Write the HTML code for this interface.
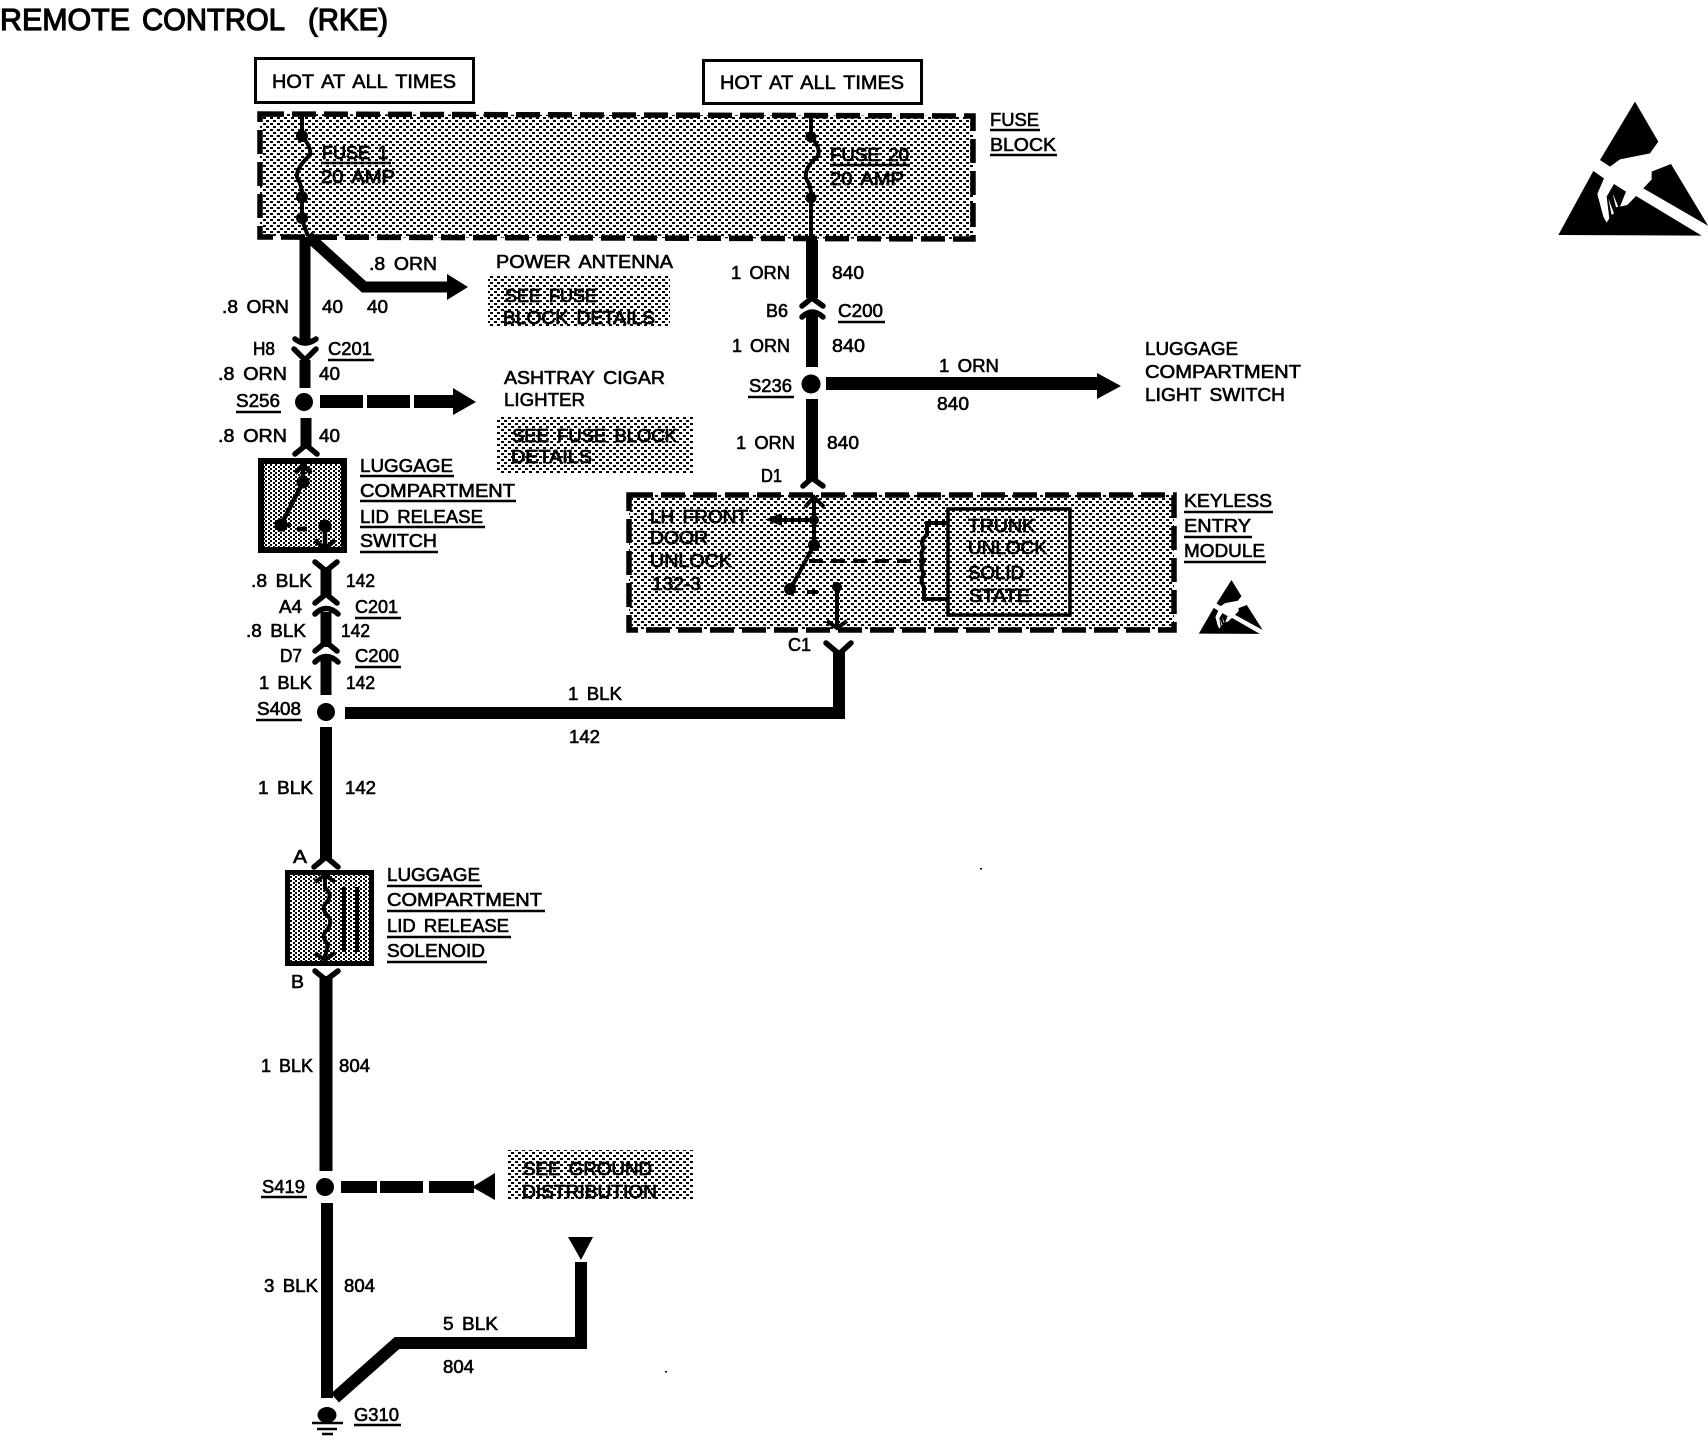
<!DOCTYPE html>
<html><head><meta charset="utf-8"><title>Remote Control (RKE)</title>
<style>
html,body{margin:0;padding:0;background:#fff;width:1708px;height:1440px;overflow:hidden}
svg{display:block}
text{font-family:"Liberation Sans",sans-serif;font-size:18px;fill:#000;stroke:#000;stroke-width:.6px;word-spacing:3px}
.s{stroke-width:.85px}
.t{font-size:31px;stroke-width:1.2px}
.h{font-size:19px}
</style></head><body>
<svg xmlns="http://www.w3.org/2000/svg" width="1708" height="1440" viewBox="0 0 1708 1440">
<defs>
<pattern id="d" width="7" height="6" patternUnits="userSpaceOnUse"><rect width="7" height="6" fill="#fff"/><rect x="0" y="0" width="3" height="2" fill="#000"/><rect x="4" y="3" width="3" height="2" fill="#000"/></pattern>
<pattern id="e" width="5" height="4" patternUnits="userSpaceOnUse"><rect width="5" height="4" fill="#fff"/><rect x="0" y="0" width="2" height="2" fill="#000"/><rect x="3" y="2" width="2" height="2" fill="#000"/></pattern>
<g id="esd"><path d="M285,35 L355,155 L330,190 L240,208 L210,230 L180,210 Z"/><path d="M393,222 L505,408 L310,295 L335,268 L335,245 Z"/><path d="M55,435 L160,243 L192,265 L172,312 L190,380 L200,398 L208,385 L200,320 L222,282 L258,305 L240,350 L262,345 L288,318 L485,437 Z"/><path d="M218,310 L235,350 L228,352 Z M205,325 L222,370 L215,375 Z" fill="#fff"/></g>
</defs>
<rect width="1708" height="1440" fill="#fff"/>

<!-- shaded areas -->
<path d="M260,114 L973,116 L973,239 L260,237 Z" fill="url(#d)"/>
<path d="M629,495 H1174 V630 H629 Z" fill="url(#d)"/>
<rect x="488" y="275" width="182" height="52" fill="url(#d)"/>
<rect x="497" y="416" width="196" height="57" fill="url(#d)"/>
<rect x="508" y="1150" width="185" height="50" fill="url(#d)"/>
<rect x="261" y="461" width="83" height="89" fill="url(#e)"/>
<rect x="287" y="872" width="85" height="92" fill="url(#e)"/>

<!-- dashed modules -->
<path d="M260,114 L973,116 L973,239 L260,237 Z" fill="none" stroke="#000" stroke-width="5.500" stroke-dasharray="24 8"/>
<path d="M629,495 H1174 V630 H629 Z" fill="none" stroke="#000" stroke-width="5.500" stroke-dasharray="24 8"/>

<!-- boxes -->
<rect x="255.500" y="58.500" width="218" height="44" fill="#fff" stroke="#000" stroke-width="3"/>
<rect x="703.500" y="60.500" width="218" height="43" fill="#fff" stroke="#000" stroke-width="3"/>
<rect x="261" y="461" width="83" height="89" fill="none" stroke="#000" stroke-width="6"/>
<rect x="287.500" y="872.500" width="84" height="91" fill="none" stroke="#000" stroke-width="5"/>
<rect x="948" y="509" width="122" height="106" fill="none" stroke="#000" stroke-width="3.500"/>

<!-- heavy wires -->
<g fill="none" stroke="#000" stroke-linejoin="miter">
<path d="M305,237 V345" stroke-width="11"/>
<path d="M308,236 L364,287 H450" stroke-width="11"/>
<path d="M305,360 V388" stroke-width="11"/>
<path d="M306,418 V448" stroke-width="11"/>
<path d="M326,567 V597" stroke-width="11"/>
<path d="M326,612 V647" stroke-width="11"/>
<path d="M326,656 V695" stroke-width="11"/>
<path d="M326,727 V860" stroke-width="12"/>
<path d="M326,976 V1171" stroke-width="13"/>
<path d="M327,1203 V1398" stroke-width="12"/>
<path d="M345,713 H839 V650" stroke-width="12"/>
<path d="M812,240 V298" stroke-width="12"/>
<path d="M812,312 V367" stroke-width="12"/>
<path d="M812,399 V480" stroke-width="12"/>
<path d="M826,383.500 H1098" stroke-width="13"/>
<path d="M335,1398 L397,1343 H581 V1262" stroke-width="12"/>
<path d="M320,401.500 H453" stroke-width="13" stroke-dasharray="43 4"/>
<path d="M341,1187 H377 M380,1187 H423 M429,1187 H474" stroke-width="12"/>
</g>

<!-- connector chevrons -->
<g fill="none" stroke="#000" stroke-width="5.500" stroke-linecap="round">
<path d="M295,339 Q305,347 316,339"/>
<path d="M294,349 L305,360 L316,349"/>
<path d="M295,454 L306,445 L317,454"/>
<path d="M315,562 L326,571 L337,562"/>
<path d="M315,603 L326,594 L337,603"/>
<path d="M315,614 Q326,603 338,614"/>
<path d="M315,651 L326,642 L337,651"/>
<path d="M315,662 Q326,651 338,662"/>
<path d="M314,867 L326,857 L338,867"/>
<path d="M315,971 L326,980 L338,971"/>
<path d="M826,643 L839,654 L851,643"/>
<path d="M802,306 L812,298 L823,306"/>
<path d="M802,317 Q812,307 823,317"/>
<path d="M803,486 L812,478 L823,486"/>
</g>

<!-- arrowheads -->
<path d="M447,274 L468,287 L447,300 Z"/>
<path d="M453,388 L476,402 L453,415 Z"/>
<path d="M1097,373 L1121,386 L1097,399 Z"/>
<path d="M472,1187 L495,1173 V1200 Z"/>
<path d="M568,1237 H593 L581,1260 Z"/>

<!-- splice dots -->
<circle cx="304" cy="402" r="9"/>
<circle cx="326" cy="712" r="9"/>
<circle cx="811" cy="384" r="9.500"/>
<circle cx="325" cy="1187" r="9"/>

<!-- fuses -->
<g fill="none" stroke="#000" stroke-width="4">
<path d="M302,114 V136 Q312,148 310,155 Q296,168 297,177 Q303,188 302,197 V220 L308,236"/>
<path d="M811,115 V137 Q821,148 818,156 Q804,168 806,178 Q812,188 811,198 V240"/>
</g>
<circle cx="302" cy="136" r="6"/><circle cx="302" cy="197" r="6"/><circle cx="302" cy="218" r="6"/>
<circle cx="811" cy="137" r="5.500"/><circle cx="811" cy="198" r="5.500"/>

<!-- switch -->
<g fill="none" stroke="#000" stroke-width="4.500">
<path d="M303,463 V482 L281,525 H291"/>
<path d="M297,529 H307"/>
<path d="M295,473 L303,465 L311,473"/>
<path d="M325,528 V548"/>
<path d="M315,540 L325,549 L335,540"/>
</g>
<circle cx="303" cy="482" r="6.500"/><circle cx="281" cy="525" r="6.500"/><circle cx="325" cy="526" r="6.500"/>

<!-- keyless internals -->
<g fill="none" stroke="#000" stroke-width="4">
<path d="M814,497 V545 L790,590"/>
<path d="M805,507 L814,497 L824,507"/>
<path d="M782,520 H814"/>
<path d="M807,592 H818"/>
<path d="M837,587 V627"/>
<path d="M827,621 L837,628 L847,621"/>
<path d="M809,561 H923" stroke-dasharray="14 8"/>
<path d="M948,523 H927 V535 Q919,541 924,548 Q919,554 924,561 Q919,567 924,574 Q919,580 924,587 V599 H948"/>
</g>
<path d="M765,519.500 L782,513 V526 Z"/>
<circle cx="814" cy="520" r="5"/><circle cx="814" cy="545" r="6"/><circle cx="790" cy="589" r="6"/><circle cx="837" cy="587" r="5"/>

<!-- solenoid -->
<g fill="none" stroke="#000" stroke-width="4">
<path d="M325,876 V888 Q333,894 327,902 Q320,908 328,916 Q333,922 327,930 Q320,936 328,944 L325,958"/>
<path d="M315,882 L325,875 L335,882"/>
<path d="M315,953 L325,960 L335,953"/>
<path d="M344,887 V952"/>
<path d="M357,887 V952"/>
</g>

<!-- ground -->
<ellipse cx="327" cy="1415" rx="9.500" ry="8"/>
<path d="M312,1423 H343 M317,1429 H337 M322,1434 H333" stroke="#000" stroke-width="2.500" fill="none"/>

<!-- ESD symbols -->
<use href="#esd" transform="translate(1540,90) scale(.3333)"/>
<use href="#esd" transform="translate(1191,575.300) scale(.142,.134)"/>

<!-- specks -->
<rect x="980" y="868" width="2" height="1.500"/><rect x="665" y="1371" width="2" height="1.500"/>

<!-- underlines -->
<g stroke="#000" stroke-width="2.500" fill="none">
<path d="M321,163 H391 M830,165 H910 M990,130 H1040 M990,155 H1057"/>
<path d="M328,360 H374 M236,412 H281 M838,322 H885 M748,397 H794"/>
<path d="M360,476 H454 M360,501 H516 M360,527 H485 M360,552 H438"/>
<path d="M355,618 H401 M355,667 H401 M256,720 H302"/>
<path d="M1184,512 H1273 M1184,537 H1252 M1184,562 H1266"/>
<path d="M387,886 H482 M387,911 H545 M387,937 H511 M387,962 H487"/>
<path d="M261,1197 H307 M354,1425 H401"/>
</g>

<!-- text -->
<text class="t" x="0" y="30" textLength="130" lengthAdjust="spacingAndGlyphs">REMOTE</text>
<text class="t" x="142" y="30" textLength="143" lengthAdjust="spacingAndGlyphs">CONTROL</text>
<text class="t" x="308" y="30" textLength="80" lengthAdjust="spacingAndGlyphs">(RKE)</text>

<text class="h" x="272" y="88" textLength="184" lengthAdjust="spacingAndGlyphs">HOT AT ALL TIMES</text>
<text class="h" x="720" y="89" textLength="184" lengthAdjust="spacingAndGlyphs">HOT AT ALL TIMES</text>

<text class="s" x="322" y="159" textLength="66" lengthAdjust="spacingAndGlyphs">FUSE 1</text>
<text class="s" x="321" y="183" textLength="74" lengthAdjust="spacingAndGlyphs">20 AMP</text>
<text class="s" x="830" y="161" textLength="79" lengthAdjust="spacingAndGlyphs">FUSE 20</text>
<text class="s" x="830" y="185" textLength="74" lengthAdjust="spacingAndGlyphs">20 AMP</text>
<text x="990" y="126" textLength="49" lengthAdjust="spacingAndGlyphs">FUSE</text>
<text x="990" y="151" textLength="66" lengthAdjust="spacingAndGlyphs">BLOCK</text>

<text x="222" y="313" textLength="67" lengthAdjust="spacingAndGlyphs">.8 ORN</text>
<text x="322" y="313" textLength="21" lengthAdjust="spacingAndGlyphs">40</text>
<text x="367" y="313" textLength="21" lengthAdjust="spacingAndGlyphs">40</text>
<text x="369" y="270" textLength="68" lengthAdjust="spacingAndGlyphs">.8 ORN</text>
<text x="496" y="268" textLength="177" lengthAdjust="spacingAndGlyphs">POWER ANTENNA</text>
<text class="s" x="505" y="302" textLength="92" lengthAdjust="spacingAndGlyphs">SEE FUSE</text>
<text class="s" x="503" y="324" textLength="152" lengthAdjust="spacingAndGlyphs">BLOCK DETAILS</text>
<text x="253" y="355" textLength="22" lengthAdjust="spacingAndGlyphs">H8</text>
<text x="328" y="355" textLength="44" lengthAdjust="spacingAndGlyphs">C201</text>
<text x="218" y="380" textLength="69" lengthAdjust="spacingAndGlyphs">.8 ORN</text>
<text x="319" y="380" textLength="21" lengthAdjust="spacingAndGlyphs">40</text>
<text x="236" y="407" textLength="44" lengthAdjust="spacingAndGlyphs">S256</text>
<text x="504" y="384" textLength="161" lengthAdjust="spacingAndGlyphs">ASHTRAY CIGAR</text>
<text x="504" y="406" textLength="81" lengthAdjust="spacingAndGlyphs">LIGHTER</text>
<text class="s" x="512" y="442" textLength="165" lengthAdjust="spacingAndGlyphs">SEE FUSE BLOCK</text>
<text class="s" x="511" y="463" textLength="81" lengthAdjust="spacingAndGlyphs">DETAILS</text>
<text x="218" y="442" textLength="69" lengthAdjust="spacingAndGlyphs">.8 ORN</text>
<text x="319" y="442" textLength="21" lengthAdjust="spacingAndGlyphs">40</text>

<text x="360" y="472" textLength="93" lengthAdjust="spacingAndGlyphs">LUGGAGE</text>
<text x="360" y="497" textLength="155" lengthAdjust="spacingAndGlyphs">COMPARTMENT</text>
<text x="360" y="523" textLength="123" lengthAdjust="spacingAndGlyphs">LID RELEASE</text>
<text x="360" y="547" textLength="77" lengthAdjust="spacingAndGlyphs">SWITCH</text>

<text x="251" y="587" textLength="61" lengthAdjust="spacingAndGlyphs">.8 BLK</text>
<text x="346" y="587" textLength="29" lengthAdjust="spacingAndGlyphs">142</text>
<text x="279" y="613" textLength="23" lengthAdjust="spacingAndGlyphs">A4</text>
<text x="355" y="613" textLength="43" lengthAdjust="spacingAndGlyphs">C201</text>
<text x="246" y="637" textLength="60" lengthAdjust="spacingAndGlyphs">.8 BLK</text>
<text x="341" y="637" textLength="29" lengthAdjust="spacingAndGlyphs">142</text>
<text x="280" y="662" textLength="22" lengthAdjust="spacingAndGlyphs">D7</text>
<text x="355" y="662" textLength="44" lengthAdjust="spacingAndGlyphs">C200</text>
<text x="259" y="689" textLength="53" lengthAdjust="spacingAndGlyphs">1 BLK</text>
<text x="346" y="689" textLength="29" lengthAdjust="spacingAndGlyphs">142</text>
<text x="257" y="715" textLength="44" lengthAdjust="spacingAndGlyphs">S408</text>
<text x="568" y="700" textLength="54" lengthAdjust="spacingAndGlyphs">1 BLK</text>
<text x="569" y="743" textLength="31" lengthAdjust="spacingAndGlyphs">142</text>
<text x="258" y="794" textLength="55" lengthAdjust="spacingAndGlyphs">1 BLK</text>
<text x="345" y="794" textLength="31" lengthAdjust="spacingAndGlyphs">142</text>
<text x="293" y="863" textLength="14" lengthAdjust="spacingAndGlyphs">A</text>
<text x="291" y="988" textLength="13" lengthAdjust="spacingAndGlyphs">B</text>

<text x="387" y="881" textLength="93" lengthAdjust="spacingAndGlyphs">LUGGAGE</text>
<text x="387" y="906" textLength="155" lengthAdjust="spacingAndGlyphs">COMPARTMENT</text>
<text x="387" y="932" textLength="122" lengthAdjust="spacingAndGlyphs">LID RELEASE</text>
<text x="387" y="957" textLength="98" lengthAdjust="spacingAndGlyphs">SOLENOID</text>

<text x="261" y="1072" textLength="52" lengthAdjust="spacingAndGlyphs">1 BLK</text>
<text x="339" y="1072" textLength="31" lengthAdjust="spacingAndGlyphs">804</text>
<text x="262" y="1193" textLength="43" lengthAdjust="spacingAndGlyphs">S419</text>
<text class="s" x="523" y="1175" textLength="129" lengthAdjust="spacingAndGlyphs">SEE GROUND</text>
<text class="s" x="522" y="1198" textLength="135" lengthAdjust="spacingAndGlyphs">DISTRIBUTION</text>
<text x="264" y="1292" textLength="54" lengthAdjust="spacingAndGlyphs">3 BLK</text>
<text x="344" y="1292" textLength="31" lengthAdjust="spacingAndGlyphs">804</text>
<text x="443" y="1330" textLength="55" lengthAdjust="spacingAndGlyphs">5 BLK</text>
<text x="443" y="1373" textLength="31" lengthAdjust="spacingAndGlyphs">804</text>
<text x="354" y="1421" textLength="45" lengthAdjust="spacingAndGlyphs">G310</text>

<text x="731" y="279" textLength="59" lengthAdjust="spacingAndGlyphs">1 ORN</text>
<text x="832" y="279" textLength="32" lengthAdjust="spacingAndGlyphs">840</text>
<text x="766" y="317" textLength="22" lengthAdjust="spacingAndGlyphs">B6</text>
<text x="838" y="317" textLength="45" lengthAdjust="spacingAndGlyphs">C200</text>
<text x="732" y="352" textLength="58" lengthAdjust="spacingAndGlyphs">1 ORN</text>
<text x="832" y="352" textLength="33" lengthAdjust="spacingAndGlyphs">840</text>
<text x="749" y="392" textLength="43" lengthAdjust="spacingAndGlyphs">S236</text>
<text x="939" y="372" textLength="60" lengthAdjust="spacingAndGlyphs">1 ORN</text>
<text x="937" y="410" textLength="32" lengthAdjust="spacingAndGlyphs">840</text>
<text x="1145" y="355" textLength="93" lengthAdjust="spacingAndGlyphs">LUGGAGE</text>
<text x="1145" y="378" textLength="156" lengthAdjust="spacingAndGlyphs">COMPARTMENT</text>
<text x="1145" y="401" textLength="140" lengthAdjust="spacingAndGlyphs">LIGHT SWITCH</text>
<text x="736" y="449" textLength="59" lengthAdjust="spacingAndGlyphs">1 ORN</text>
<text x="827" y="449" textLength="32" lengthAdjust="spacingAndGlyphs">840</text>
<text x="761" y="482" textLength="21" lengthAdjust="spacingAndGlyphs">D1</text>

<text class="s" x="650" y="523" textLength="98" lengthAdjust="spacingAndGlyphs">LH FRONT</text>
<text class="s" x="650" y="544" textLength="58" lengthAdjust="spacingAndGlyphs">DOOR</text>
<text class="s" x="650" y="567" textLength="82" lengthAdjust="spacingAndGlyphs">UNLOCK</text>
<text class="s" x="652" y="590" textLength="49" lengthAdjust="spacingAndGlyphs">132-3</text>
<text class="s" x="968" y="532" textLength="67" lengthAdjust="spacingAndGlyphs">TRUNK</text>
<text class="s" x="968" y="554" textLength="79" lengthAdjust="spacingAndGlyphs">UNLOCK</text>
<text class="s" x="968" y="579" textLength="56" lengthAdjust="spacingAndGlyphs">SOLID</text>
<text class="s" x="969" y="602" textLength="61" lengthAdjust="spacingAndGlyphs">STATE</text>
<text x="1184" y="507" textLength="88" lengthAdjust="spacingAndGlyphs">KEYLESS</text>
<text x="1184" y="532" textLength="67" lengthAdjust="spacingAndGlyphs">ENTRY</text>
<text x="1184" y="557" textLength="81" lengthAdjust="spacingAndGlyphs">MODULE</text>
<text x="788" y="651" textLength="23" lengthAdjust="spacingAndGlyphs">C1</text>
</svg>
</body></html>
